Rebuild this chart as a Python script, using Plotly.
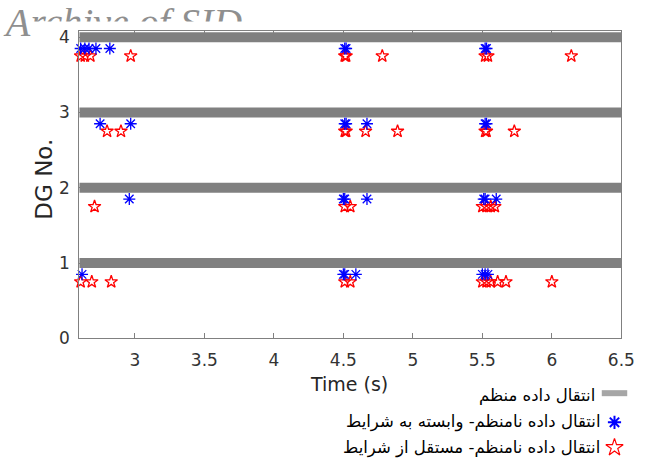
import plotly.graph_objects as go

W, H = 651, 475

# ---------------- data ----------------
dg_numbers = [1, 2, 3, 4]
regular_t = [2.6, 6.5]          # regular (periodic) transmission covers the whole window

# irregular, condition-dependent transmission times (blue asterisks)
dep_times = {
    1: [2.62, 4.50, 4.51, 4.59, 5.50, 5.52, 5.54],
    2: [2.96, 4.50, 4.51, 4.67, 5.51, 5.52, 5.60],
    3: [2.75, 2.97, 4.51, 4.52, 4.67, 5.52, 5.53],
    4: [2.61, 2.64, 2.67, 2.72, 2.82, 4.51, 4.52, 5.52, 5.53],
}
# irregular, condition-independent transmission times (red stars)
ind_times = {
    1: [2.61, 2.69, 2.83, 4.51, 4.55, 5.50, 5.53, 5.56, 5.61, 5.67, 6.00],
    2: [2.71, 4.51, 4.55, 5.50, 5.53, 5.56, 5.59],
    3: [2.80, 2.90, 4.51, 4.52, 4.66, 4.89, 5.52, 5.53, 5.73],
    4: [2.61, 2.64, 2.68, 2.97, 4.51, 4.52, 4.78, 5.52, 5.54, 6.14],
}
dep_offset = -0.15
ind_offset = -0.25

x_ticks = [3, 3.5, 4, 4.5, 5, 5.5, 6, 6.5]
x_ticklabels = ["3", "3.5", "4", "4.5", "5", "5.5", "6", "6.5"]
y_ticks = [0, 1, 2, 3, 4]
y_ticklabels = ["0", "1", "2", "3", "4"]

x_title = "Time (s)"
y_title = "DG No."
legend_labels = [
    "انتقال داده منظم",
    "انتقال داده نامنظم- وابسته به شرایط",
    "انتقال داده نامنظم- مستقل از شرایط",
]
watermark = "Archive of SID"

# ---------------- figure ----------------
fig = go.Figure()

# regular transmission: thick gray bands
for k in dg_numbers:
    fig.add_trace(go.Scatter(
        x=regular_t, y=[k] * len(regular_t), mode="lines",
        line=dict(color="#808080", width=10), showlegend=False, hoverinfo="skip",
        xaxis="x", yaxis="y"))

for k in dg_numbers:
    fig.add_trace(go.Scatter(
        x=ind_times[k], y=[k + ind_offset] * len(ind_times[k]), mode="markers",
        marker=dict(symbol="star-open", size=9.5, color="#ff0000",
                    line=dict(color="#ff0000", width=1.3)),
        showlegend=False, cliponaxis=False, xaxis="x", yaxis="y"))
    fig.add_trace(go.Scatter(
        x=dep_times[k], y=[k + dep_offset] * len(dep_times[k]), mode="markers",
        marker=dict(symbol="asterisk-open", size=10, color="#0000ff",
                    line=dict(color="#0000ff", width=1.3)),
        showlegend=False, cliponaxis=False, xaxis="x", yaxis="y"))

# ---- manual legend (symbols on the right of RTL text) on a pixel-space overlay ----
fig.add_trace(go.Scatter(x=[615, 641], y=[401, 401], mode="lines",
                         line=dict(color="#a6a6a6", width=6),
                         showlegend=False, hoverinfo="skip", xaxis="x2", yaxis="y2"))
fig.add_trace(go.Scatter(x=[628], y=[431], mode="markers",
                         marker=dict(symbol="asterisk-open", size=11, color="#0000ff",
                                     line=dict(color="#0000ff", width=2)),
                         showlegend=False, hoverinfo="skip", xaxis="x2", yaxis="y2"))
fig.add_trace(go.Scatter(x=[628], y=[457], mode="markers",
                         marker=dict(symbol="star-open", size=13, color="#ff0000",
                                     line=dict(color="#ff0000", width=1.2)),
                         showlegend=False, hoverinfo="skip", xaxis="x2", yaxis="y2"))

# watermark: "A" fully visible, the rest clipped to its top part
wm_font = dict(family="Liberation Serif", size=40, color="#8f8f8f", style="italic")
fig.add_trace(go.Scatter(x=[6], y=[23], mode="text", text=["A"],
                         textposition="middle right", textfont=wm_font,
                         cliponaxis=False, showlegend=False, hoverinfo="skip",
                         xaxis="x2", yaxis="y2"))
fig.add_trace(go.Scatter(x=[6], y=[23], mode="text", text=[watermark],
                         textposition="middle right", textfont=wm_font,
                         cliponaxis=True, showlegend=False, hoverinfo="skip",
                         xaxis="x3", yaxis="y3"))

axis_color = "#808080"
tick_font = dict(family="DejaVu Sans", size=17, color="#333333")

x0, x1, ytop, ybot = 81, 635, 28, 344.5
# size comes from the page container (651x475), see write_html below
fig.update_layout(
    autosize=True,
    margin=dict(l=0, r=0, t=0, b=0),
    paper_bgcolor="#ffffff", plot_bgcolor="rgba(0,0,0,0)",
    showlegend=False,
    xaxis=dict(domain=[x0 / W, x1 / W], range=[2.6, 6.5],
               tickvals=x_ticks, ticktext=x_ticklabels,
               showline=True, linecolor=axis_color, linewidth=1.3, mirror="ticks",
               ticks="inside", ticklen=5, tickcolor=axis_color, tickwidth=1,
               showgrid=False, zeroline=False, tickfont=tick_font,
               ticklabelstandoff=6, anchor="y"),
    yaxis=dict(domain=[1 - ybot / H, 1 - ytop / H], range=[0, 4.08],
               tickvals=y_ticks, ticktext=y_ticklabels,
               showline=True, linecolor=axis_color, linewidth=1.3, mirror="ticks",
               ticks="inside", ticklen=5, tickcolor=axis_color, tickwidth=1,
               showgrid=False, zeroline=False, tickfont=tick_font,
               ticklabelstandoff=5, anchor="x"),
    xaxis2=dict(domain=[0, 1], range=[0, W], visible=False, fixedrange=True, anchor="y2"),
    yaxis2=dict(domain=[0, 1], range=[H, 0], visible=False, fixedrange=True, anchor="x2"),
    xaxis3=dict(domain=[26 / W, 300 / W], range=[26, 300], visible=False,
                fixedrange=True, anchor="y3"),
    yaxis3=dict(domain=[1 - 18 / H, 1], range=[18, 0], visible=False,
                fixedrange=True, anchor="x3"),
)

ann = []
ann.append(dict(text=x_title, x=357 / W, y=1 - 392 / H, xref="paper", yref="paper",
                xanchor="center", yanchor="middle", showarrow=False,
                font=dict(family="DejaVu Sans", size=19, color="#262626")))
ann.append(dict(text=y_title, x=45 / W, y=1 - 181 / H, xref="paper", yref="paper",
                xanchor="center", yanchor="middle", showarrow=False, textangle=-90,
                font=dict(family="DejaVu Sans", size=23, color="#262626")))
for lbl, yy, xr in zip(legend_labels, [403, 431, 457], [610, 615, 615]):
    ann.append(dict(text=lbl, x=xr / W, y=1 - yy / H, xref="paper", yref="paper",
                    xanchor="right", yanchor="middle", showarrow=False,
                    font=dict(family="DejaVu Sans", size=16.5, color="#000000")))
fig.update_layout(annotations=ann)

# The page body keeps the browser's default 8px margin; the graph div gets a
# matching negative margin so the figure sits exactly at (0, 0) at 651x475.
# If the post script runs, it normalises both margins to zero.
page_js = ("document.body.style.margin='0';"
           "var g=document.getElementById('{plot_id}'); if(g){g.style.margin='0';}"
           "document.documentElement.style.overflow='hidden';"
           "document.body.style.overflow='hidden';")
fig.write_html("out.html",
               config={"displayModeBar": False},
               default_width=f"{W}px; margin:-8px",
               default_height=f"{H}px",
               post_script=page_js)
